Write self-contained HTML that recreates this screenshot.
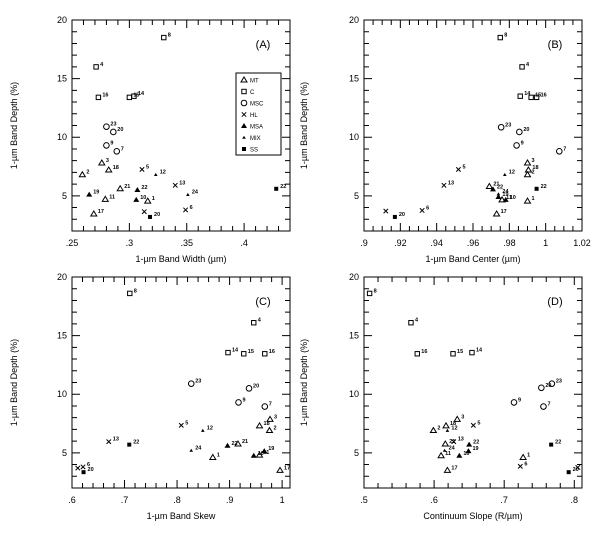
<!DOCTYPE html>
<html><head><meta charset="utf-8"><style>
html,body{margin:0;padding:0;background:#fff;}
svg{display:block;font-family:"Liberation Sans",sans-serif;}
</style></head><body>
<svg id="chart" width="600" height="544" viewBox="0 0 600 544" xmlns="http://www.w3.org/2000/svg"></svg>
<script>
// ---- data ----
const aX=[.330,.271,.273,.300,.304,.280,.286,.280,.289,.276,.282,.259,.311,.323,.292,.307,.340,.351,.428,.265,.279,.306,.316,.349,.313,.318,.269];
const aY=[18.5,16.0,13.4,13.4,13.5,10.9,10.45,9.3,8.8,7.8,7.2,6.8,7.25,6.8,5.6,5.5,5.9,5.1,5.6,5.1,4.7,4.65,4.55,3.8,3.65,3.2,3.45];
const aType=["C","C","C","C","C","MSC","MSC","MSC","MSC","MT","MT","MT","HL","MIX","MT","MSA","HL","MIX","SS","MSA","MT","MSA","MT","HL","HL","SS","MT"];
const aLabel=["8","4","16","15","14","23","20","9","7","3","18","2","5","12","21","22","13","24","22","19","11","10","1","6","","20","17"];

const bX=[.975,.987,.986,.992,.995,.9755,.9855,.984,1.0075,.990,.9905,.990,.9775,.952,.944,.971,.969,.995,.974,.974,.976,.978,.990,.932,.912,.917,.973];
const bY=[18.5,16.0,13.5,13.4,13.4,10.85,10.45,9.3,8.8,7.8,7.2,6.8,6.8,7.25,5.9,5.55,5.8,5.6,5.15,4.9,4.65,4.65,4.55,3.75,3.7,3.2,3.45];
const bType=["C","C","C","C","C","MSC","MSC","MSC","MSC","MT","MT","MT","MIX","HL","HL","MSA","MT","SS","MIX","MSA","MT","MSA","MT","HL","HL","SS","MT"];
const bLabel=["8","4","14","15","16","23","20","9","7","3","18","2","12","5","13","22","21","22","24","19","11","10","1","6","","20","17"];

const cX=[.71,.946,.897,.927,.967,.827,.937,.917,.967,.977,.957,.976,.808,.849,.670,.709,.896,.916,.827,.868,.946,.957,.966,.996,.611,.621,.622];
const cY=[18.6,16.1,13.55,13.45,13.45,10.9,10.5,9.3,8.95,7.85,7.3,6.9,7.35,6.9,5.95,5.7,5.6,5.75,5.2,4.6,4.75,4.8,5.15,3.5,3.7,3.8,3.35];
const cType=["C","C","C","C","C","MSC","MSC","MSC","MSC","MT","MT","MT","HL","MIX","HL","SS","MSA","MT","MIX","MT","MSA","MT","MSA","MT","HL","HL","SS"];
const cLabel=["8","4","14","15","16","23","20","9","7","3","18","2","5","12","13","22","22","21","24","1","10","11","19","17","","6","20"];

const dX=[.508,.567,.576,.627,.654,.753,.768,.714,.756,.633,.617,.599,.619,.656,.628,.616,.65,.615,.61,.636,.649,.619,.727,.723,.767,.792,.805];
const dY=[18.6,16.1,13.45,13.45,13.55,10.55,10.9,9.3,8.95,7.85,7.3,6.9,6.9,7.35,5.95,5.75,5.7,5.2,4.75,4.75,5.15,3.5,4.6,3.85,5.7,3.35,3.75];
const dType=["C","C","C","C","C","MSC","MSC","MSC","MSC","MT","MT","MT","MIX","HL","HL","MT","MSA","MIX","MT","MSA","MSA","MT","MT","HL","SS","SS","HL"];
const dLabel=["8","4","16","15","14","20","23","9","7","3","18","2","12","5","13","21","22","24","11","10","19","17","1","6","22","20",""];

const aTicks=[".25",".3",".35",".4"], aTickVals=[.25,.3,.35,.4];
const bTicks=[".9",".92",".94",".96",".98","1","1.02"], bTickVals=[.9,.92,.94,.96,.98,1,1.02];
const cTicks=[".6",".7",".8",".9","1"], cTickVals=[.6,.7,.8,.9,1];
const dTicks=[".5",".6",".7",".8"], dTickVals=[.5,.6,.7,.8];
const yTicks=["5","10","15","20"], yTickVals=[5,10,15,20];
const legendTypes=["MT","C","MSC","HL","MSA","MIX","SS"];

// ---- drawing ----
const NS="http://www.w3.org/2000/svg";
const svg=document.getElementById("chart");
function mk(tag,attrs,parent){const e=document.createElementNS(NS,tag);for(const k in attrs)e.setAttribute(k,attrs[k]);(parent||svg).appendChild(e);return e;}

function marker(g,t,x,y){
  let e;
  if(t==="MT"){e=mk("polygon",{points:`${x},${y-3} ${x-3},${y+2} ${x+3},${y+2}`,fill:"none",stroke:"#000","stroke-width":1},g);}
  else if(t==="C"){e=mk("rect",{x:x-2.2,y:y-2.2,width:4.4,height:4.4,fill:"none",stroke:"#000","stroke-width":1},g);}
  else if(t==="MSC"){e=mk("circle",{cx:x,cy:y,r:2.8,fill:"none",stroke:"#000","stroke-width":1},g);}
  else if(t==="HL"){e=mk("path",{d:`M${x-2.2},${y-2.2}L${x+2.2},${y+2.2}M${x+2.2},${y-2.2}L${x-2.2},${y+2.2}`,stroke:"#000","stroke-width":1},g);}
  else if(t==="MSA"){e=mk("polygon",{points:`${x},${y-3} ${x-3},${y+2} ${x+3},${y+2}`,fill:"#000"},g);}
  else if(t==="MIX"){e=mk("polygon",{points:`${x},${y-1.8} ${x-1.8},${y+1.3} ${x+1.8},${y+1.3}`,fill:"#000"},g);}
  else {e=mk("rect",{x:x-2,y:y-2,width:4,height:4,fill:"#000"},g);}
  return e;
}

function panel(name,L,R,T,B,xmin,xmax,minorStep,xs,ys,types,labels,tickTxt,tickVals,xTitle,letter,titleX){
  const g=mk("g",{});
  
  
  const ymin=2,ymax=20;
  const sx=v=>L+(v-xmin)/(xmax-xmin)*(R-L);
  const sy=v=>B-(v-ymin)/(ymax-ymin)*(B-T);
  const fr=mk("rect",{x:L,y:T,width:R-L,height:B-T,fill:"none",stroke:"#000","stroke-width":1},g);
  
  
  let d="";
  const n=Math.round((xmax-xmin)/minorStep);
  for(let i=0;i<=n+1;i++){const v=xmin+i*minorStep;if(v>xmax+1e-9)break;const x=sx(v);
    const maj=tickVals.some(t=>Math.abs(t-v)<1e-6);const len=maj?8:5;
    d+=`M${x},${B}V${B-len}M${x},${T}V${T+len}`;}
  for(let v=ymin+1;v<ymax;v++){const y=sy(v);const maj=v%5===0;const len=maj?8:5;
    d+=`M${L},${y}H${L+len}M${R},${y}H${R-len}`;}
  const tk=mk("path",{d:d,stroke:"#000","stroke-width":1,fill:"none"},g);
  
  
  tickVals.forEach((v,i)=>{const t=mk("text",{x:sx(v),y:B+15,"font-size":9,"text-anchor":"middle"},g);t.textContent=tickTxt[i];
    
    });
  yTickVals.forEach((v,i)=>{const t=mk("text",{x:L-5,y:sy(v)+3,"font-size":9,"text-anchor":"end"},g);t.textContent=yTicks[i];
    
    });
  const xt=mk("text",{x:(L+R)/2,y:B+31,"font-size":9,"text-anchor":"middle"},g);xt.textContent=xTitle;
  
  
  const yt=mk("text",{x:titleX,y:(T+B)/2,"font-size":9,"text-anchor":"middle",transform:`rotate(-90 ${titleX} ${(T+B)/2})`},g);yt.textContent="1-µm Band Depth (%)";
  
  
  const lt=mk("text",{x:R-27,y:T+28,"font-size":11,"text-anchor":"middle"},g);lt.textContent=letter;
  
  
  xs.forEach((v,i)=>{const x=sx(v),y=sy(ys[i]);
    const m=marker(g,types[i],x,y);
    
    
    if(labels[i]){const t=mk("text",{x:x+4,y:y-1,"font-size":5.5,"font-weight":"bold"},g);t.textContent=labels[i];
      
      }
  });
  return {g,sx,sy};
}

panel("a",72,290,20,231,.25,.44,.01,aX,aY,aType,aLabel,aTicks,aTickVals,"1-µm Band Width (µm)","(A)",17);
panel("b",364,582,20,231,.9,1.02,.005,bX,bY,bType,bLabel,bTicks,bTickVals,"1-µm Band Center (µm)","(B)",307);
panel("c",72,290,277,488,.6,1.015,.02,cX,cY,cType,cLabel,cTicks,cTickVals,"1-µm Band Skew","(C)",17);
panel("d",364,582,277,488,.5,.811,.02,dX,dY,dType,dLabel,dTicks,dTickVals,"Continuum Slope (R/µm)","(D)",307);

// legend
const lg=mk("g",{});


const lb=mk("rect",{x:236,y:73,width:45,height:82,fill:"#fff",stroke:"#000","stroke-width":1},lg);


legendTypes.forEach((t,i)=>{const y=80+i*11.5;
  const m=marker(lg,t,244,y);
  
  
  const tx=mk("text",{x:250,y:y+2.5,"font-size":6},lg);tx.textContent=t;
  
  
});
</script>
</body></html>
